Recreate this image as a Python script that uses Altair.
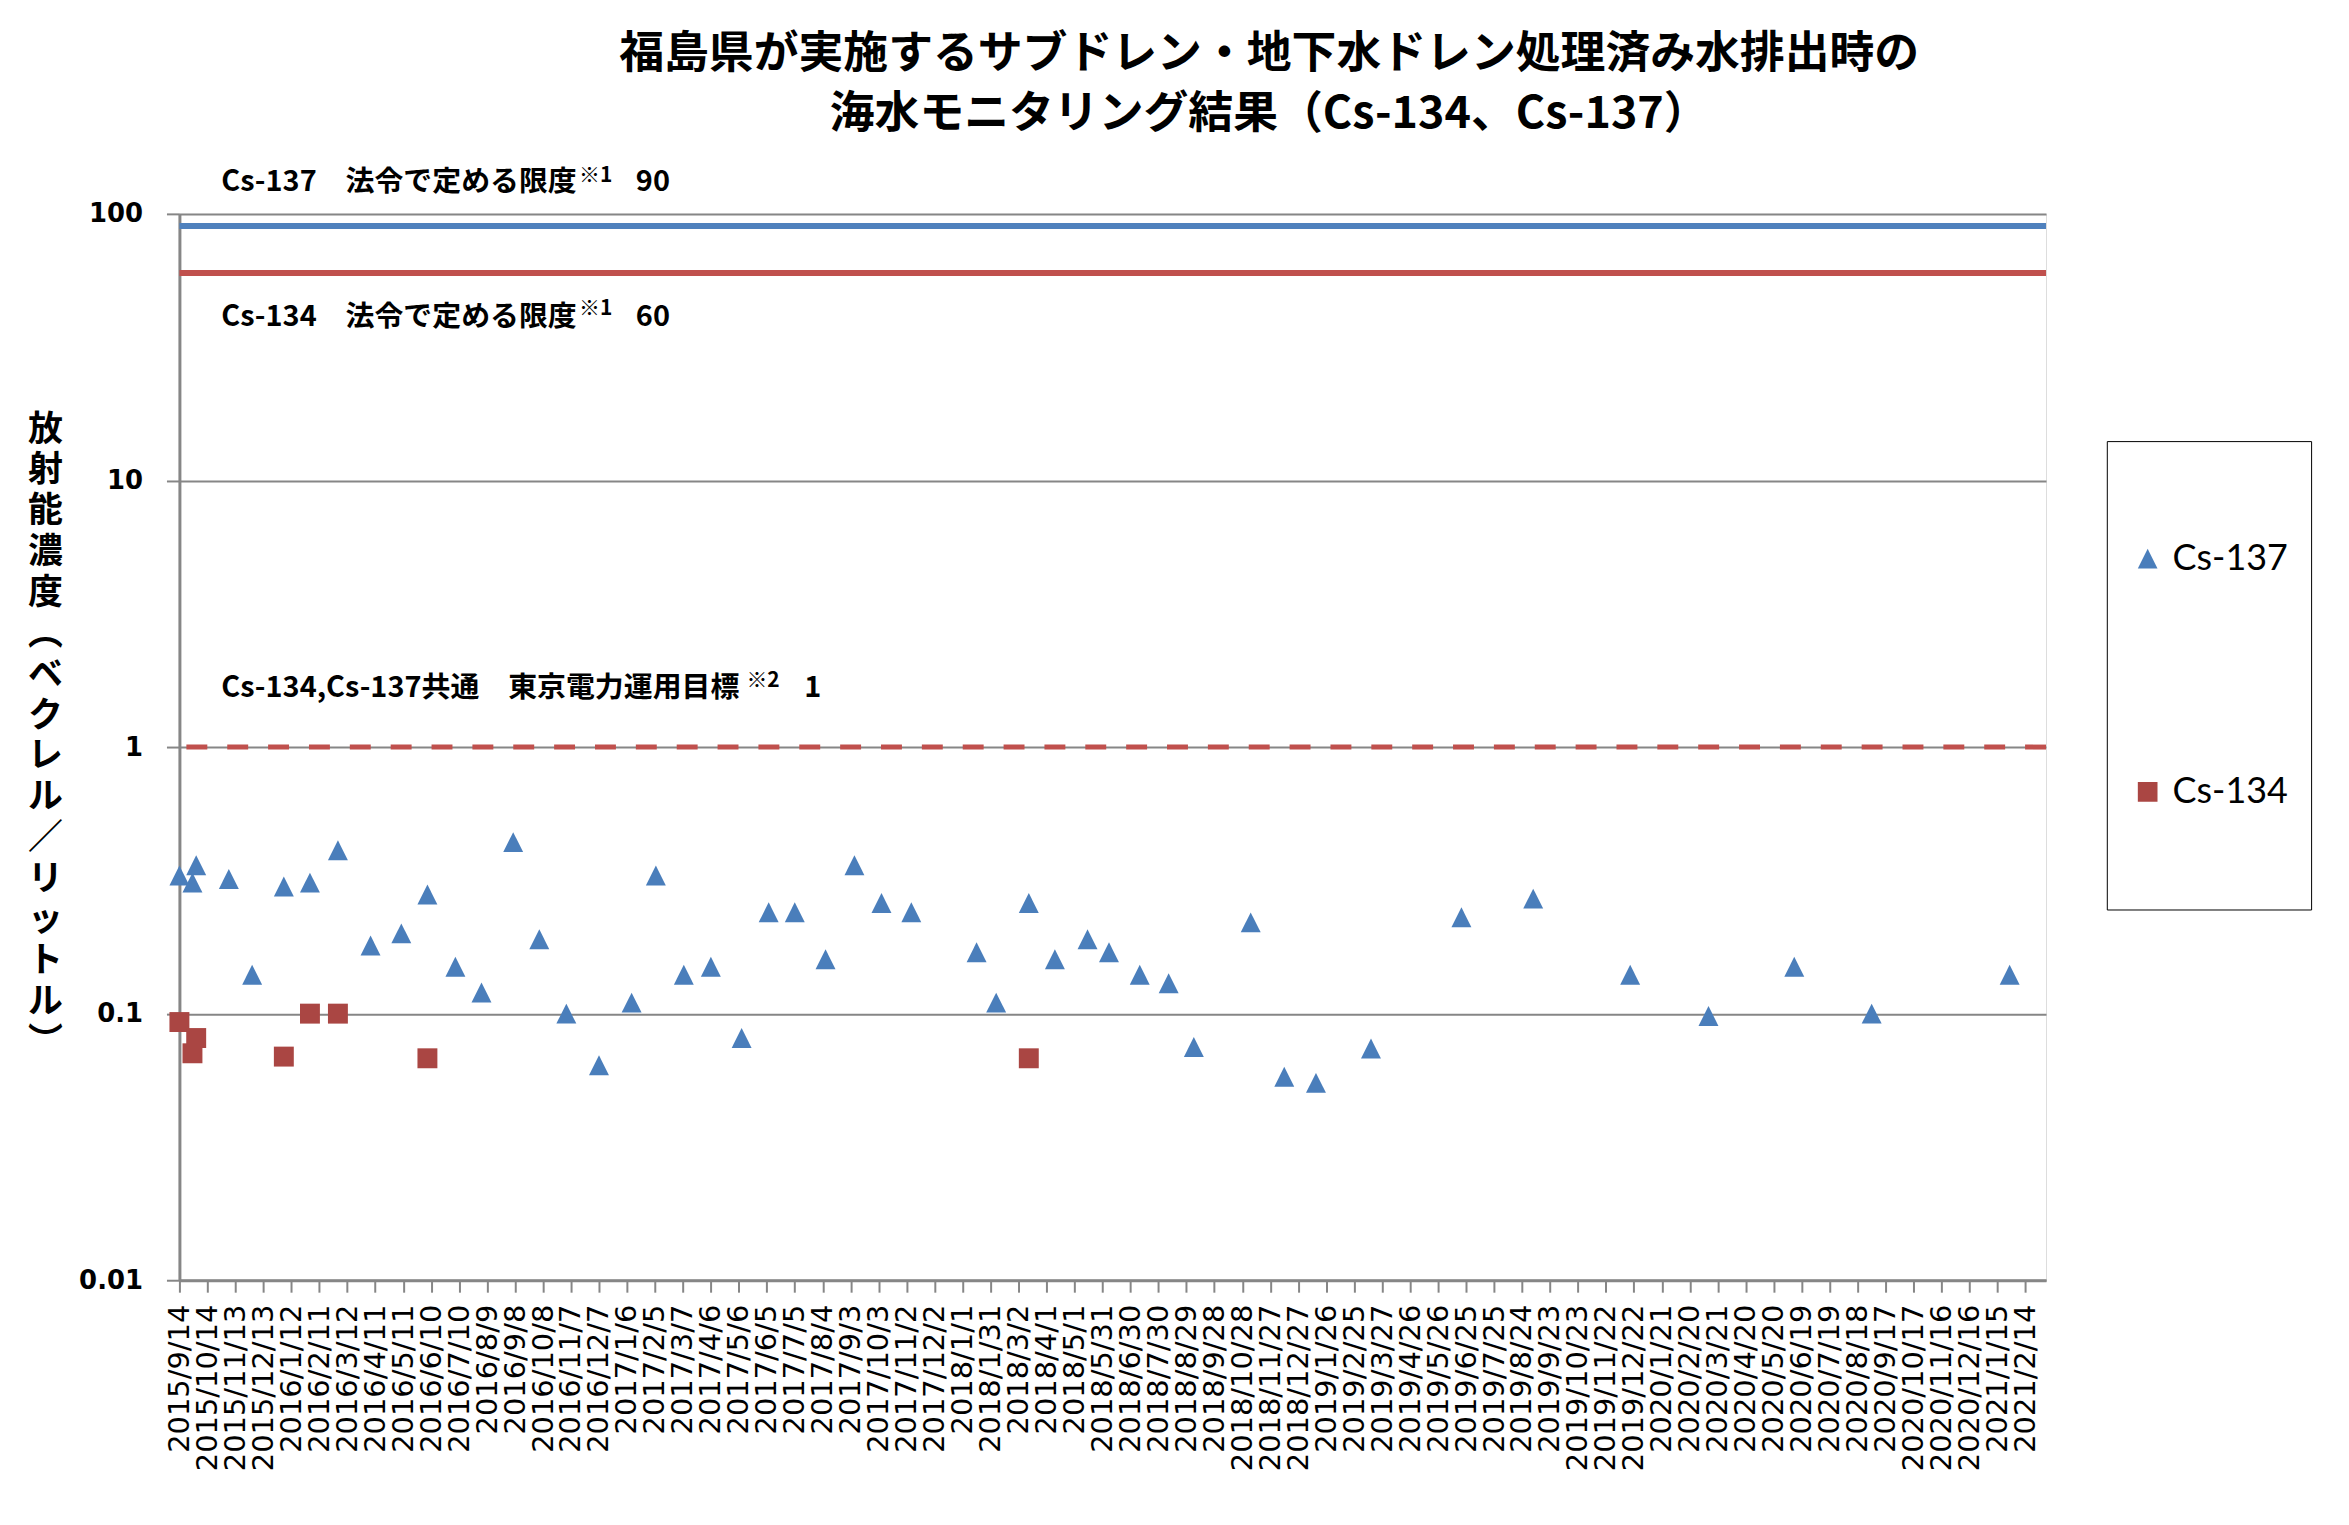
import altair as alt
import pandas as pd
from datetime import datetime, timezone

# ---------------- data ----------------
title_lines = [
    "福島県が実施するサブドレン・地下水ドレン処理済み水排出時の",
    "海水モニタリング結果（Cs-134、Cs-137）",
]
y_title_chars = list("放射能濃度︵ベクレル／リットル︶")

cs137_dates = [
    "2015-09-14", "2015-09-28", "2015-10-02", "2015-11-06", "2015-12-01",
    "2016-01-04", "2016-02-01", "2016-03-02", "2016-04-06", "2016-05-09",
    "2016-06-06", "2016-07-06", "2016-08-03", "2016-09-06", "2016-10-04",
    "2016-11-02", "2016-12-07", "2017-01-11", "2017-02-06", "2017-03-08",
    "2017-04-06", "2017-05-09", "2017-06-07", "2017-07-05", "2017-08-07",
    "2017-09-07", "2017-10-06", "2017-11-07", "2018-01-16", "2018-02-06",
    "2018-03-13", "2018-04-10", "2018-05-15", "2018-06-07", "2018-07-10",
    "2018-08-10", "2018-09-06", "2018-11-06", "2018-12-12", "2019-01-15",
    "2019-03-15", "2019-06-20", "2019-09-05", "2019-12-18", "2020-03-11",
    "2020-06-11", "2020-09-02", "2021-01-28",
]
cs137_values = [
    0.33, 0.31, 0.36, 0.32, 0.14,
    0.30, 0.31, 0.41, 0.18, 0.20,
    0.28, 0.15, 0.12, 0.44, 0.19,
    0.10, 0.064, 0.11, 0.33, 0.14,
    0.15, 0.081, 0.24, 0.24, 0.16,
    0.36, 0.26, 0.24, 0.17, 0.11,
    0.26, 0.16, 0.19, 0.17, 0.14,
    0.13, 0.075, 0.22, 0.058, 0.055,
    0.074, 0.23, 0.27, 0.14, 0.098,
    0.15, 0.10, 0.14,
]
cs134_dates = [
    "2015-09-14", "2015-09-28", "2015-10-02", "2016-01-04",
    "2016-02-01", "2016-03-02", "2016-06-06", "2018-03-13",
]
cs134_values = [0.093, 0.071, 0.081, 0.069, 0.10, 0.10, 0.068, 0.068]

tick_labels = [
    "2015/9/14", "2015/10/14", "2015/11/13", "2015/12/13", "2016/1/12",
    "2016/2/11", "2016/3/12", "2016/4/11", "2016/5/11", "2016/6/10",
    "2016/7/10", "2016/8/9", "2016/9/8", "2016/10/8", "2016/11/7",
    "2016/12/7", "2017/1/6", "2017/2/5", "2017/3/7", "2017/4/6",
    "2017/5/6", "2017/6/5", "2017/7/5", "2017/8/4", "2017/9/3",
    "2017/10/3", "2017/11/2", "2017/12/2", "2018/1/1", "2018/1/31",
    "2018/3/2", "2018/4/1", "2018/5/1", "2018/5/31", "2018/6/30",
    "2018/7/30", "2018/8/29", "2018/9/28", "2018/10/28", "2018/11/27",
    "2018/12/27", "2019/1/26", "2019/2/25", "2019/3/27", "2019/4/26",
    "2019/5/26", "2019/6/25", "2019/7/25", "2019/8/24", "2019/9/23",
    "2019/10/23", "2019/11/22", "2019/12/22", "2020/1/21", "2020/2/20",
    "2020/3/21", "2020/4/20", "2020/5/20", "2020/6/19", "2020/7/19",
    "2020/8/18", "2020/9/17", "2020/10/17", "2020/11/16", "2020/12/16",
    "2021/1/15", "2021/2/14",
]
x_domain_labels = ["2015/9/14", "2021/3/8"]
y_ticks = [0.01, 0.1, 1, 10, 100]
y_domain = [0.01, 100]

limit_cs137 = 90
limit_cs134 = 60
target_common = 1

series_names = ["Cs-137", "Cs-134"]
series_colors = ["#4A7EBB", "#AA4643"]

# ---------------- helpers ----------------
def to_ms(label):
    y, m, d = (int(v) for v in label.split("/"))
    return int(datetime(y, m, d, tzinfo=timezone.utc).timestamp() * 1000)

tick_ms = [to_ms(t) for t in tick_labels]
x_domain = [to_ms(t) for t in x_domain_labels]

df = pd.concat([
    pd.DataFrame({"date": cs137_dates, "value": cs137_values, "nuclide": "Cs-137"}),
    pd.DataFrame({"date": cs134_dates, "value": cs134_values, "nuclide": "Cs-134"}),
], ignore_index=True)

GRAY = "#868686"
JP = "Noto Sans CJK JP"
TRI = "M0,-1L1,1L-1,1Z"

x_scale = alt.Scale(type="utc", domain=x_domain, nice=False)
y_scale = alt.Scale(type="log", domain=y_domain, nice=False)

x_axis = alt.Axis(
    values=tick_ms, tickCount=500,
    labelExpr="utcFormat(datum.value, '%Y/%-m/%-d')",
    labelAngle=270, labelAlign="right", labelBaseline="middle",
    labelFont="DejaVu Sans", labelFontSize=29, labelColor="black",
    labelPadding=12, labelOverlap=False, labelBound=False, labelFlush=False,
    tickSize=12, tickColor=GRAY, tickWidth=2,
    domainColor=GRAY, domainWidth=3, grid=False, title=None,
)
y_axis = alt.Axis(
    values=y_ticks, format="~g",
    labelFont="DejaVu Sans", labelFontSize=26, labelFontWeight="bold",
    labelColor="black", labelPadding=24,
    tickSize=13, tickColor=GRAY, tickWidth=2,
    domainColor=GRAY, domainWidth=3,
    grid=True, gridColor=GRAY, gridWidth=2,
    title=y_title_chars, titleAngle=0, titleX=-135, titleY=199,
    titleAlign="center", titleBaseline="top",
    titleFont=JP, titleFontSize=35, titleFontWeight="bold",
    titleLineHeight=41, titleColor="black",
)

legend = alt.Legend(
    title=None, orient="none", legendX=1934, legendY=228,
    padding=23, strokeColor="black", fillColor="white",
    labelFont="Lato", labelFontSize=36, labelColor="black",
    labelOffset=7, symbolSize=390, symbolOffset=0,
    symbolStrokeWidth=0, clipHeight=190, rowPadding=44,
)

points = alt.Chart(df).mark_point(filled=True, opacity=1, size=400, strokeWidth=0).encode(
    x=alt.X("date:T", scale=x_scale, axis=x_axis),
    y=alt.Y("value:Q", scale=y_scale, axis=y_axis),
    color=alt.Color("nuclide:N", scale=alt.Scale(domain=series_names, range=series_colors), legend=legend),
    shape=alt.Shape("nuclide:N", scale=alt.Scale(domain=series_names, range=[TRI, "square"]), legend=legend),
)

rule_137 = alt.Chart().mark_rule(color="#4F81BD", strokeWidth=6).encode(y=alt.Y(datum=limit_cs137))
rule_134 = alt.Chart().mark_rule(color="#C0504D", strokeWidth=6).encode(y=alt.Y(datum=limit_cs134))
rule_1 = alt.Chart().mark_rule(color="#C0504D", strokeWidth=5, strokeDash=[21, 20]).encode(y=alt.Y(datum=target_common))

x_start = alt.DateTime(year=2015, month=9, date=14, utc=True)

def note(text, yval, dx, dy, size=29):
    return alt.Chart().mark_text(
        align="left", baseline="alphabetic", dx=dx, dy=dy,
        font=JP, fontSize=size, fontWeight="bold", color="black",
    ).encode(x=alt.X(datum=x_start), y=alt.Y(datum=yval), text=alt.value(text))

notes = [
    note("Cs-137　法令で定める限度", limit_cs137, 42, -35),
    note("※1", limit_cs137, 401, -44, 21),
    note("90", limit_cs137, 458, -35),
    note("Cs-134　法令で定める限度", limit_cs134, 42, 53),
    note("※1", limit_cs134, 401, 42, 21),
    note("60", limit_cs134, 458, 53),
    note("Cs-134,Cs-137共通　東京電力運用目標", target_common, 42, -50),
    note("※2", target_common, 569, -60, 21),
    note(str(target_common), target_common, 627, -50),
]

chart = alt.layer(rule_137, rule_134, rule_1, points, *notes).properties(
    width=1873, height=1070,
    padding={"left": 172, "top": 204, "right": 296, "bottom": 235},
    autosize=alt.AutoSizeParams(type="none"),
    title=alt.TitleParams(
        text=title_lines, anchor="middle", frame="group", dx=157, offset=28,
        font=JP, fontSize=45, fontWeight="bold", color="black", lineHeight=61,
    ),
).configure_view(stroke=None).configure_legend(strokeWidth=2).configure(background="white")

chart.save("out.html", embed_options={"renderer": "svg", "actions": False})
